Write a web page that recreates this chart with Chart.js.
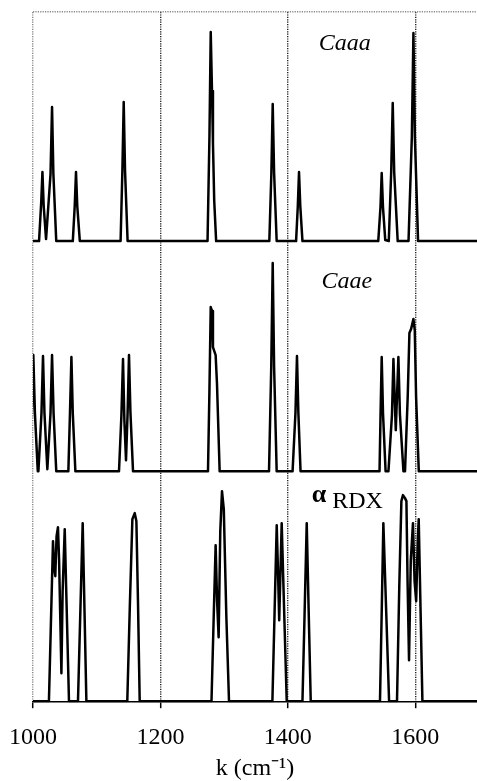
<!DOCTYPE html>
<html>
<head>
<meta charset="utf-8">
<script src="https://cdn.jsdelivr.net/npm/chart.js@4/dist/chart.umd.min.js"></script>
<style>
  html, body { margin: 0; padding: 0; background: #fff; overflow: hidden; }
  #wrap { position: relative; width: 477px; height: 781px; }
</style>
</head>
<body>
<div id="wrap"><canvas id="c"></canvas></div>
<script>
// ---- Data (wavenumber k in cm^-1, intensity in arbitrary units) ----
const caaaK = [1000,
  1009.5, 1013, 1014.8, 1016.8, 1020.5, 1027.5, 1029.9, 1032, 1036.5,
  1062.5, 1065.5, 1067.5, 1069.5, 1073.5,
  1137.5, 1140.3, 1142.4, 1144.5, 1148.5,
  1274, 1277, 1279, 1281, 1282.5, 1284.5, 1287.5,
  1371, 1374.2, 1376.3, 1378.5, 1382.5,
  1413, 1415.7, 1417.6, 1419.6, 1423,
  1542, 1545.5, 1547.4, 1549.4, 1553,
  1558.5, 1562.3, 1564.7, 1567, 1572.5,
  1589.5, 1594.7, 1597.2, 1599.5, 1604.5,
  1700];
const caaaI = [0,
  0, 40, 69, 35, 2, 67, 134, 67, 0,
  0, 35, 69, 35, 0,
  0, 70, 139, 70, 0,
  0, 105, 209, 150, 98, 40, 0,
  0, 68, 137, 68, 0,
  0, 35, 69, 35, 0,
  0, 34, 68, 34, 1,
  0, 69, 138, 69, 0,
  0, 104, 208, 104, 0,
  0];

const caaeK = [996, 1000.5, 1003, 1007.5,
  1008.5, 1013.3, 1015.7, 1018, 1022.5, 1027.5, 1029.9, 1032.3, 1036.5,
  1055.5, 1058, 1060.3, 1062.5, 1066.5,
  1135, 1138.8, 1141.3, 1143.5, 1146, 1148.5, 1150.7, 1153, 1157,
  1274.7, 1277, 1279, 1281, 1282.5, 1286.7, 1288.8, 1293,
  1370.5, 1374, 1376.3, 1378.5, 1382.5,
  1407.5, 1412, 1414.4, 1416.6, 1420,
  1544, 1545.6, 1547.4, 1549.5, 1553.5,
  1558, 1563.5, 1565.8, 1569.5, 1573.6, 1576, 1581.5,
  1584, 1588.2, 1590.9, 1593.5, 1597.2, 1599.3, 1601.4, 1605.6,
  1700];
const caaeI = [0, 116, 58, 0,
  0, 58, 115, 58, 2, 58, 116, 58, 0,
  0, 57, 114, 57, 0,
  0, 56, 112, 50, 11, 58, 116, 58, 0,
  0, 82, 164, 160, 124, 116, 88, 0,
  0, 104, 208, 104, 0,
  0, 58, 115, 58, 0,
  0, 57, 114, 57, 0,
  0, 56, 112, 41, 114, 57, 0,
  0, 74, 138, 142, 152, 141, 74, 0,
  0];

const rdxK = [1000,
  1025, 1028, 1031.4, 1033, 1035, 1037, 1039.2, 1041, 1044.6, 1046.5, 1049.8, 1052, 1056.5,
  1070.6, 1074.3, 1078, 1080.9, 1083.8,
  1148, 1152, 1156, 1159.7, 1162.3, 1164.8, 1167.5,
  1280.2, 1283.5, 1286.7, 1289, 1291.4, 1294, 1296.7, 1299.5, 1303.5, 1307.7,
  1375.8, 1379.2, 1382.6, 1385, 1386.5, 1388.5, 1390.4, 1394.3, 1398.3,
  1423, 1426.4, 1429.7, 1432.8, 1436,
  1544.7, 1547.4, 1550, 1554.5, 1559,
  1571.4, 1575, 1578.3, 1580.8, 1584, 1586.2, 1588, 1590.3, 1593, 1596.5, 1599, 1601.5, 1604, 1605.5, 1608.4, 1611.3,
  1700];
const rdxI = [0,
  0, 75, 160, 135, 125, 165, 174, 140, 28, 110, 172, 115, 0,
  0, 89, 178, 89, 0,
  0, 95, 182, 188, 180, 100, 0,
  0, 80, 156, 100, 64, 170, 210, 192, 85, 0,
  0, 88, 176, 120, 81, 130, 178, 89, 0,
  0, 89, 178, 89, 0,
  0, 89, 178, 89, 0,
  0, 115, 200, 206, 203, 200, 120, 41, 140, 178, 120, 100, 160, 182, 91, 0,
  0];

const xTicks = [1000, 1200, 1400, 1600];
const seriesNames = ['Caaa', 'Caae', 'α RDX'];

// ---- Layout (vertical stacking offsets, label anchors) ----
const offsets = [461, 231, 1];
const yMax = 690;
const labelSpecs = [
  { parts: [{ t: 'Caaa', font: 'italic 24px "Liberation Serif", serif', dy: 0 }], x: 1448.5, y: 652 },
  { parts: [{ t: 'Caae', font: 'italic 24px "Liberation Serif", serif', dy: 0 }], x: 1453, y: 414 },
  { parts: [{ t: 'α', font: 'bold 26px "Liberation Serif", serif', dy: -6 },
            { t: ' RDX', font: '24px "Liberation Serif", serif', dy: 0 }], x: 1437.5, y: 194 }
];

function toPts(ks, is, off) { return ks.map((k, i) => ({ x: k, y: is[i] + off })); }

const datasets = [[caaaK, caaaI], [caaeK, caaeI], [rdxK, rdxI]].map((s, i) => ({
  label: seriesNames[i],
  data: toPts(s[0], s[1], offsets[i]),
  borderColor: '#000',
  borderWidth: 2.5,
  borderJoinStyle: 'round',
  pointRadius: 0,
  tension: 0,
  fill: false
}));

const labelPlugin = {
  id: 'panelLabels',
  afterDatasetsDraw(chart) {
    const ctx = chart.ctx, xs = chart.scales.x, ys = chart.scales.y;
    ctx.save();
    ctx.fillStyle = '#000';
    ctx.textBaseline = 'alphabetic';
    ctx.textAlign = 'left';
    labelSpecs.forEach(l => {
      let px = xs.getPixelForValue(l.x);
      const py = ys.getPixelForValue(l.y);
      l.parts.forEach(p => {
        ctx.font = p.font;
        ctx.fillText(p.t, px, py + p.dy);
        px += ctx.measureText(p.t).width;
      });
    });
    ctx.restore();
  }
};

new Chart(document.getElementById('c'), {
  type: 'line',
  data: { datasets },
  options: {
    responsive: true,
    maintainAspectRatio: false,
    animation: false,
    layout: { padding: { left: 33, right: 0, top: 12, bottom: 0 } },
    plugins: { legend: { display: false }, tooltip: { enabled: false } },
    scales: {
      x: {
        type: 'linear',
        min: 1000,
        max: 1697,
        afterBuildTicks: s => { s.ticks = xTicks.map(v => ({ value: v })); },
        afterFit: s => { s.paddingLeft = 0; s.paddingRight = 0; },
        ticks: {
          color: '#000',
          font: { family: '"Liberation Serif", serif', size: 24 },
          padding: 15,
          maxRotation: 0,
          autoSkip: false,
          callback: v => String(v)
        },
        grid: {
          color: ctx => ctx.index === 0 ? '#888' : '#222',
          lineWidth: 1.4,
          drawTicks: true,
          tickLength: 6,
          tickColor: '#000',
          tickWidth: 1.5,
          tickBorderDash: []
        },
        border: { display: true, color: '#000', width: 1.6, dash: [1.2, 1.2] },
        title: {
          display: true,
          text: 'k (cm⁻¹)',
          color: '#000',
          font: { family: '"Liberation Serif", serif', size: 24, lineHeight: 1.0 },
          padding: { top: -10, bottom: 0 }
        }
      },
      y: {
        type: 'linear',
        min: 0,
        max: yMax,
        afterBuildTicks: s => { s.ticks = [{ value: yMax }]; },
        afterFit: s => { s.width = 0; },
        ticks: { display: false },
        grid: { color: '#888', lineWidth: 1.4, drawTicks: false },
        border: { display: false, dash: [1.2, 1.2] }
      }
    }
  },
  plugins: [labelPlugin]
});
</script>
</body>
</html>
